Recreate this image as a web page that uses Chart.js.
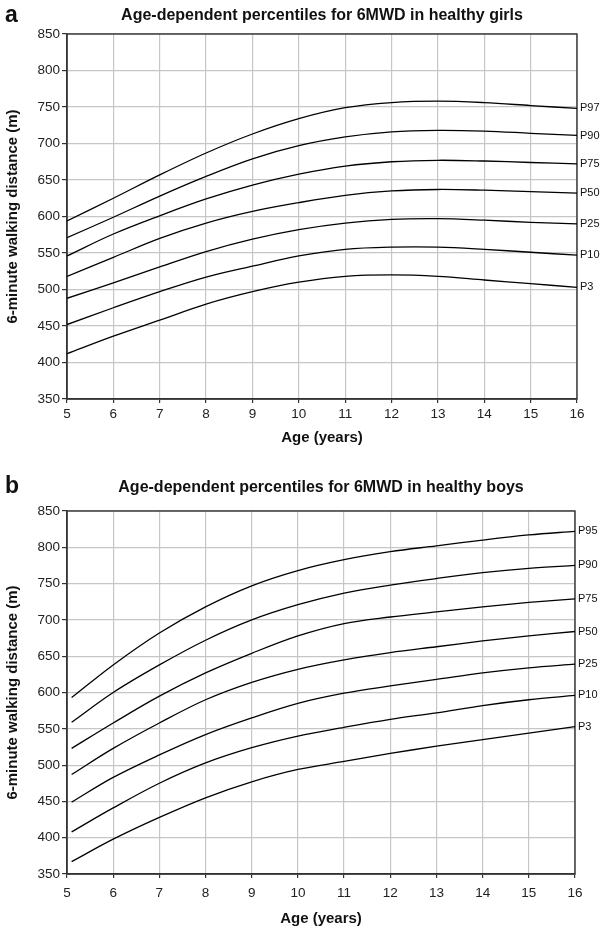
<!DOCTYPE html>
<html><head><meta charset="utf-8">
<script src="https://cdn.jsdelivr.net/npm/chart.js@4"></script>
<style>
html,body{margin:0;padding:0;background:#fff;}
.box{position:relative;width:600px;}
</style></head><body>
<div class="box" style="height:465px"><canvas id="c1"></canvas></div>
<div class="box" style="height:466px"><canvas id="c2"></canvas></div>
<script>
// ---- Girls (panel a) ----
const girlsAges = [5,6,7,8,9,10,11,12,13,14,15,16];
const girlsP97 = [594,625,657,687,713,734,749,756,758,756,752,748];
const girlsP90 = [571,599,628,655,679,697,709,716,718,717,714,711];
const girlsP75 = [546,576,601,624,643,658,669,675,677,676,674,672];
const girlsP50 = [518,544,570,591,607,619,629,635,637,636,634,632];
const girlsP25 = [488,509,531,552,569,582,591,596,597,595,592,590];
const girlsP10 = [452,475,497,517,532,546,555,558,558,555,551,547];
const girlsP3  = [412,436,458,480,497,510,518,520,518,513,508,503];
const girlsLabels = ['P97','P90','P75','P50','P25','P10','P3'];

// ---- Boys (panel b) ----
const boysAges = [5.1,6,7,8,9,10,11,12,13,14,15,16];
const boysP95 = [593,638,682,718,747,768,783,794,802,810,817,822];
const boysP90 = [559,600,638,672,700,721,737,748,757,765,771,775];
const boysP75 = [523,558,595,627,654,678,695,704,711,718,724,729];
const boysP50 = [487,523,558,590,614,632,645,655,663,671,678,684];
const boysP25 = [449,483,514,542,565,585,599,609,618,627,634,639];
const boysP10 = [408,441,475,503,524,540,552,563,572,582,590,596];
const boysP3  = [367,398,428,455,477,494,505,516,526,535,544,553];
const boysLabels = ['P95','P90','P75','P50','P25','P10','P3'];

const yTicksMin = 350, yTicksMax = 850, yStep = 50;
const xMin = 5, xMax = 16;

const FONT = '"Liberation Sans", Arial, Helvetica, sans-serif';

function pts(xs, ys){ return ys.map((v,i)=>({x:xs[i], y:v})); }

const decor = {
  id: 'decor',
  beforeDatasetsDraw(chart){
    const {ctx, chartArea:a} = chart;
    ctx.save();
    ctx.strokeStyle = '#333';
    ctx.lineWidth = 1.4;
    ctx.strokeRect(a.left, a.top, a.right - a.left, a.bottom - a.top);
    ctx.restore();
  },
  afterDatasetsDraw(chart, args, opts){
    const {ctx, chartArea:a} = chart;
    const xs = chart.scales.x, ys = chart.scales.y;
    ctx.save();
    ctx.fillStyle = '#111';
    ctx.font = '11px ' + FONT;
    ctx.textAlign = 'left';
    ctx.textBaseline = 'middle';
    chart.data.datasets.forEach(ds => {
      const last = ds.data[ds.data.length - 1];
      ctx.fillText(ds.label, xs.getPixelForValue(last.x) + 3, ys.getPixelForValue(last.y));
    });
    ctx.fillStyle = '#111';
    ctx.font = 'bold 16px ' + FONT;
    ctx.textAlign = 'center';
    ctx.fillText(opts.title, (a.left + a.right) / 2, opts.titleY);
    ctx.font = 'bold 23px ' + FONT;
    ctx.textAlign = 'left';
    ctx.fillText(opts.letter, 5, opts.letterY);
    ctx.restore();
  }
};

function makeChart(id, ages, series, labels, cfg){
  const datasets = series.map((s,i)=>({
    label: labels[i],
    data: pts(ages, s),
    borderColor: '#000',
    borderWidth: 1.3,
    pointRadius: 0,
    fill: false,
    tension: 0.35
  }));
  return new Chart(document.getElementById(id), {
    type: 'line',
    data: { datasets },
    options: {
      responsive: true,
      maintainAspectRatio: false,
      animation: false,
      layout: { padding: { top: cfg.padTop, right: cfg.padRight, left: 0, bottom: 0 } },
      plugins: {
        legend: { display: false },
        tooltip: { enabled: false },
        decor: { title: cfg.title, titleY: cfg.titleY, letter: cfg.letter, letterY: cfg.letterY }
      },
      scales: {
        x: {
          type: 'linear', min: xMin, max: xMax,
          ticks: { stepSize: 1, color: '#222', font: { family: FONT, size: 13.5 }, padding: cfg.xTickPad, maxRotation: 0 },
          grid: { color: '#c6c6c6', lineWidth: 1.2, tickLength: 4, tickColor: '#333' },
          border: { color: '#333', width: 1.4 },
          title: { display: true, text: 'Age (years)', color: '#111', font: { family: FONT, size: 15, weight: 'bold' }, padding: { top: 0, bottom: cfg.xTitlePad } },
          afterFit(s){ s.height = cfg.xHeight; }
        },
        y: {
          type: 'linear', min: yTicksMin, max: yTicksMax,
          ticks: { stepSize: yStep, color: '#222', font: { family: FONT, size: 13.5 }, padding: 2 },
          grid: { color: '#c6c6c6', lineWidth: 1.2, tickLength: 5, tickColor: '#333' },
          border: { color: '#333', width: 1.4 },
          title: { display: true, text: '6-minute walking distance (m)', color: '#111', font: { family: FONT, size: 15, weight: 'bold' }, padding: { top: 4, bottom: 0 } },
          afterFit(s){ s.width = 67; }
        }
      }
    },
    plugins: [decor]
  });
}

makeChart('c1', girlsAges,
  [girlsP97, girlsP90, girlsP75, girlsP50, girlsP25, girlsP10, girlsP3], girlsLabels,
  { padTop: 34, padRight: 23, xHeight: 66, xTickPad: 3, xTitlePad: 18,
    title: 'Age-dependent percentiles for 6MWD in healthy girls', titleY: 16, letter: 'a', letterY: 16 });

makeChart('c2', boysAges,
  [boysP95, boysP90, boysP75, boysP50, boysP25, boysP10, boysP3], boysLabels,
  { padTop: 46, padRight: 25, xHeight: 57, xTickPad: 7, xTitlePad: 3,
    title: 'Age-dependent percentiles for 6MWD in healthy boys', titleY: 23, letter: 'b', letterY: 22 });
</script>
</body></html>
